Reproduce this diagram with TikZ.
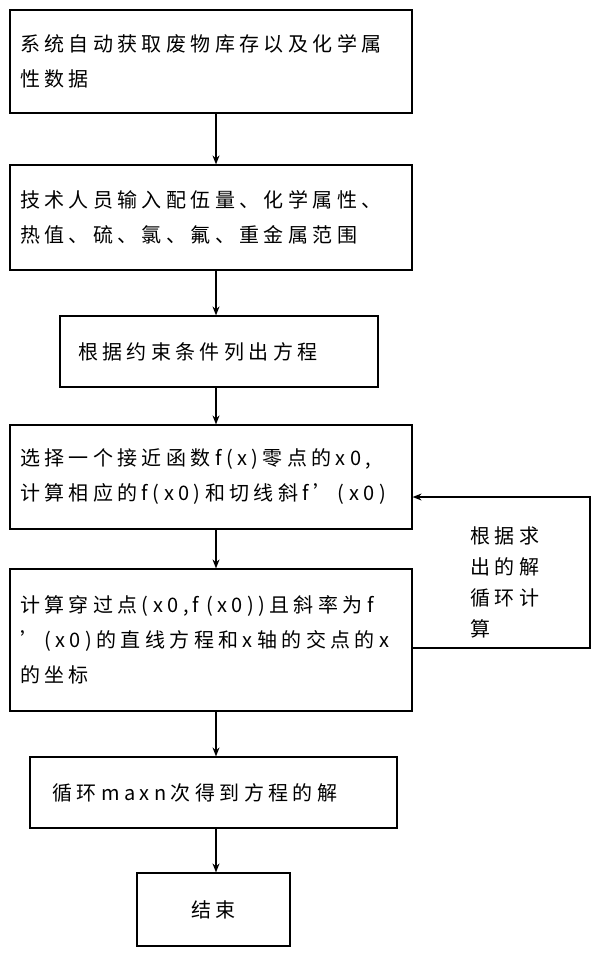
\documentclass[tikz,border=0pt]{standalone}
\usepackage{fontspec}
\setmainfont{Noto Sans CJK SC}[LetterSpace=22]
\usetikzlibrary{arrows.meta}
\begin{document}
\begin{tikzpicture}[x=1pt,y=-1pt,
  box/.style={draw,line width=1.2pt,inner sep=0pt,font=\fontsize{20}{35}\selectfont,align=left},
  arr/.style={-{Stealth[length=9pt,width=7pt]},line width=1.2pt}]
\useasboundingbox (0,0) rectangle (600,956);
\node[box,minimum width=402,minimum height=103,text width=382] (b1) at (211,61.5) {系统自动获取废物库存以及化学属\\性数据};
\node[box,minimum width=402,minimum height=105,text width=382] (b2) at (211,217.5) {技术人员输入配伍量、化学属性、\\热值、硫、氯、氟、重金属范围};
\node[box,minimum width=318,minimum height=71,text width=282] (b3) at (219,351.5) {根据约束条件列出方程};
\node[box,minimum width=402,minimum height=104,text width=382] (b4) at (211,477) {选择一个接近函数f(x)零点的x0,\\计算相应的f(x0)和切线斜f'(x0)};
\node[box,minimum width=402,minimum height=142,text width=382] (b5) at (211,640) {计算穿过点(x0,f (x0))且斜率为f\\'(x0)的直线方程和x轴的交点的x\\的坐标};
\node[box,minimum width=367,minimum height=71,text width=322] (b6) at (213.5,792.5) {循环maxn次得到方程的解};
\node[box,minimum width=153,minimum height=73,align=center] (b7) at (213.5,909.5) {结束};
\node[font=\fontsize{20}{31}\selectfont,align=left] (lbl) at (505,582) {根据求\\出的解\\循环计\\算};
\coordinate (c1) at (590,648);
\coordinate (c2) at (590,497);
\draw[arr] (b1.south -| 216,0) -- (b2.north -| 216,0);
\draw[arr] (b2.south -| 216,0) -- (b3.north -| 216,0);
\draw[arr] (b3.south -| 216,0) -- (b4.north -| 216,0);
\draw[arr] (b4.south -| 216,0) -- (b5.north -| 216,0);
\draw[arr] (b5.south -| 216,0) -- (b6.north -| 216,0);
\draw[arr] (b6.south -| 216,0) -- (b7.north -| 216,0);
\draw[arr] (b5.east |- c1) -- (c1) -- (c2) -- (b4.east |- c2);
\end{tikzpicture}
\end{document}
